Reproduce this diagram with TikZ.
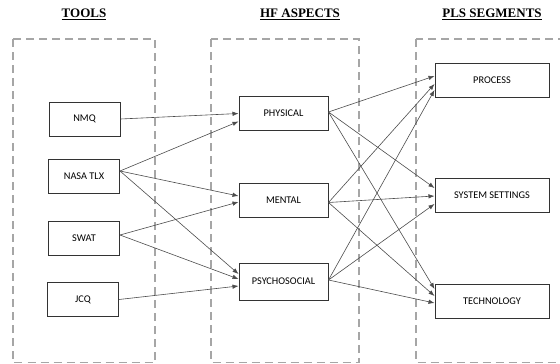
\documentclass[tikz,border=0pt]{standalone}
\usepackage{fontspec}
\setmainfont{Liberation Serif}
\newfontfamily\boxfont{Carlito}
\usetikzlibrary{arrows.meta}

\begin{document}
\begin{tikzpicture}[x=1pt,y=-1pt,
        box/.style={draw=black!80,line width=1pt,minimum height=34pt,inner sep=0pt,
            font=\boxfont\fontsize{10.3}{12}\selectfont},
        group/.style={draw=black!35,line width=1.1pt,dash pattern=on 8pt off 5pt},
        heading/.style={font=\bfseries\fontsize{13}{15}\selectfont},
        link/.style={draw=black!70,line width=0.6pt,-{Latex[length=6pt,width=4.5pt]}}]
            \useasboundingbox (0,0) rectangle (560,364);
            \clip (0,0) rectangle (560,364);
            \def\wT{71pt}
            \def\wA{89pt}
            \def\wS{114pt}

            % column frames
            \draw[group] (13,39) rectangle (155,362.5);
            \draw[group] (211,39) rectangle (359,362.5);
            \draw[group] (416,39) rectangle (590,362.5);

            \node[heading] (tools) at (84,14) {\underline{TOOLS}};
            \node[heading] (aspects) at (300,14) {\underline{HF ASPECTS}};
            \node[heading] (segments) at (492,14) {\underline{PLS SEGMENTS}};

            \node[box,minimum width=\wT] (nmq) at (84.5,119) {NMQ};
            \node[box,minimum width=\wT] (nasa) at (84,176) {NASA TLX};
            \node[box,minimum width=\wT] (swat) at (84,238) {SWAT};
            \node[box,minimum width=\wT] (jcq) at (83,299.5) {JCQ};

            \node[box,minimum width=\wA] (phys) at (283.5,113.5) {PHYSICAL};
            \node[box,minimum width=\wA] (ment) at (283.5,200.5) {MENTAL};
            \node[box,minimum width=\wA,minimum height=37pt] (psy) at (283.5,281.5) {PSYCHOSOCIAL};

            \node[box,minimum width=\wS] (proc) at (492,80) {PROCESS};
            \node[box,minimum width=\wS] (sys) at (492,195) {SYSTEM SETTINGS};
            \node[box,minimum width=\wS] (tech) at (492,301.5) {TECHNOLOGY};

            \foreach \a/\da/\b/\db in {nmq/0/phys/0, nasa/5/phys/-8, nasa/5/ment/4.5, nasa/5/psy/7.5,
                    swat/3/ment/-1.5, swat/3/psy/2.5, jcq/0/psy/-4.5,
                    phys/1.5/proc/4, phys/1.5/sys/7, phys/1.5/tech/12.5,
                    ment/-2/proc/-4, ment/-2/sys/-1, ment/-2/tech/5.5,
                    psy/1.5/proc/-10, psy/1.5/sys/-9, psy/1.5/tech/-1.5}{
                    \draw[link] ([yshift=\da pt]\a.east) -- ([yshift=\db pt]\b.west);
                }
        \end{tikzpicture}
\end{document}
